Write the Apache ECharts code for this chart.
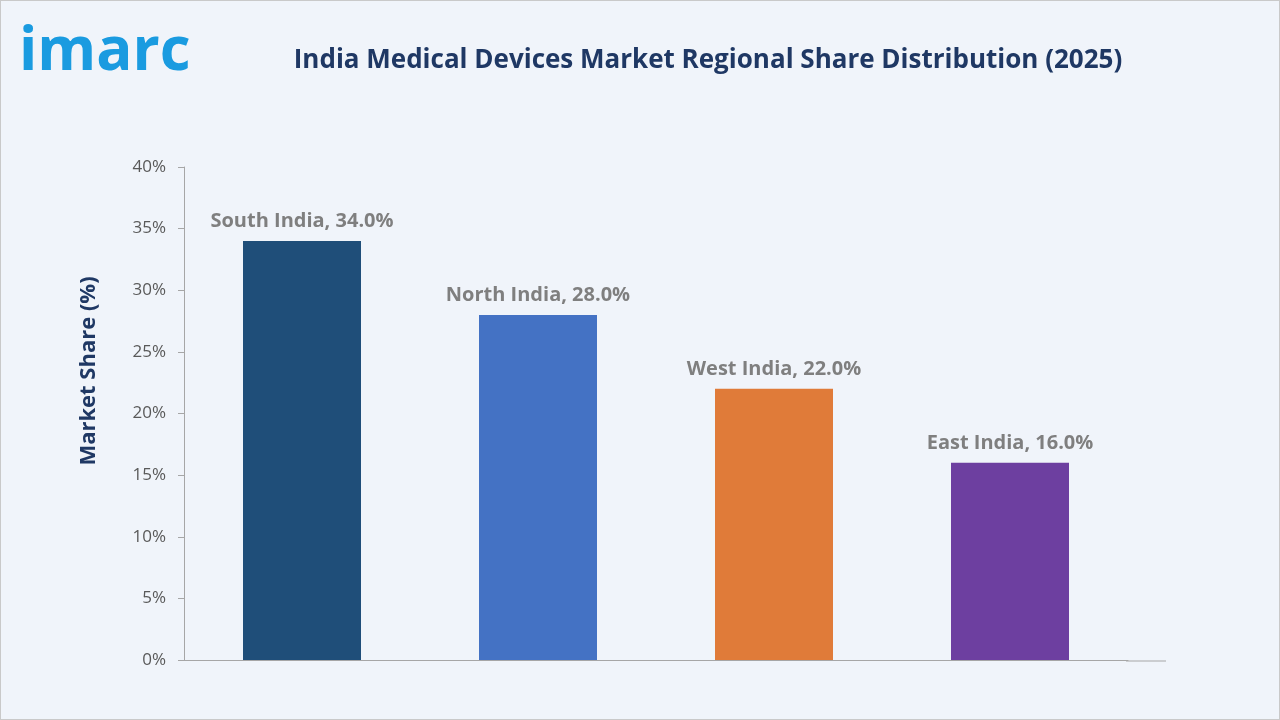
<!DOCTYPE html>
<html><head><meta charset="utf-8">
<script src="https://cdn.jsdelivr.net/npm/echarts@6/dist/echarts.min.js"></script>
<style>html,body{margin:0;padding:0;background:#f0f4fa}#c{width:1280px;height:720px;box-sizing:border-box;border:1px solid #c9c9c9}</style>
</head><body><div id="c"></div>
<script>
const categories = ['South India','North India','West India','East India'];
const values = [34.0, 28.0, 22.0, 16.0];
const colors = ['#1f4e79','#4472c4','#e07b39','#6d3fa0'];
const chart = echarts.init(document.getElementById('c'));
chart.setOption({
  backgroundColor:'#f0f4fa',
  graphic:[
    {type:'text',left:18,top:22,style:{text:'imarc',font:'bold 60px "Open Sans", sans-serif',fill:'#1a9be0'}},
    {type:'line',shape:{x1:1125,y1:660,x2:1165,y2:660},style:{stroke:'#a6a6a6',lineWidth:1}},
    {type:'text',x:88,y:370,rotation:Math.PI/2,style:{text:'Market Share (%)',align:'center',verticalAlign:'middle',
      font:'bold 22px "Open Sans", sans-serif',fill:'#1f3864'}}
  ],
  title:{text:'India Medical Devices Market Regional Share Distribution (2025)',left:702,top:42,textAlign:'center',
    textStyle:{color:'#1f3864',fontSize:26,fontWeight:'bold',fontFamily:'"Open Sans", sans-serif'}},
  grid:{left:183,right:151,top:166,bottom:59},
  xAxis:{type:'category',data:categories,axisLine:{lineStyle:{color:'#a6a6a6'}},axisTick:{show:false},axisLabel:{show:false}},
  yAxis:{type:'value',min:0,max:40,interval:5,
    axisLine:{show:true,lineStyle:{color:'#a6a6a6'}},axisTick:{show:true,inside:false,length:6,lineStyle:{color:'#a6a6a6'}},
    splitLine:{show:false},
    axisLabel:{formatter:'{value}%',color:'#595959',fontSize:17,margin:18,fontFamily:'"Open Sans", sans-serif'}},
  series:[{type:'bar',barWidth:118,
    data:values.map((v,i)=>({value:v,itemStyle:{color:colors[i]}})),
    label:{show:true,position:'top',distance:10,color:'#7f7f7f',fontSize:20,fontWeight:'bold',fontFamily:'"Open Sans", sans-serif',
      formatter:p=>p.name+', '+p.value.toFixed(1)+'%'}}]
});
</script></body></html>
